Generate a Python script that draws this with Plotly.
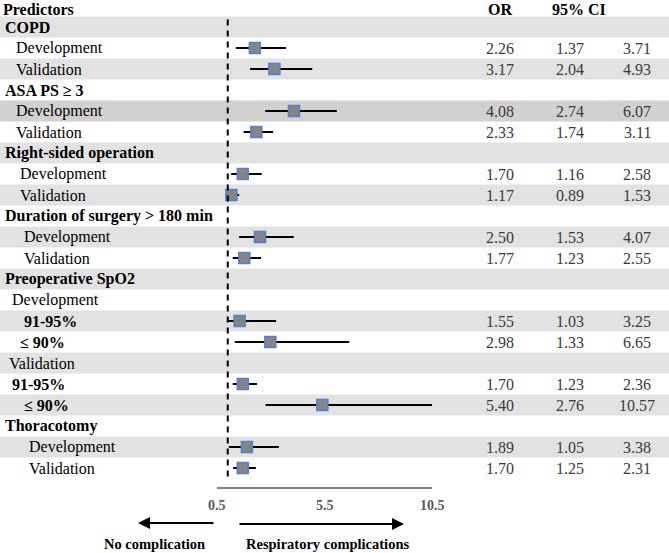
import plotly.graph_objects as go

W, H = 669, 553

# ---------------- data ----------------
labels = ["COPD", "Development", "Validation",
          "ASA PS ≥ 3", "Development", "Validation",
          "Right-sided operation", "Development", "Validation",
          "Duration of surgery > 180 min", "Development", "Validation",
          "Preoperative SpO2", "Development", "91-95%", "≤ 90%",
          "Validation", "91-95%", "≤ 90%",
          "Thoracotomy", "Development", "Validation"]
is_bold = [1, 0, 0, 1, 0, 0, 1, 0, 0, 1, 0, 0, 1, 0, 1, 1, 0, 1, 1, 1, 0, 0]
odds_ratio = [None, 2.26, 3.17, None, 4.08, 2.33, None, 1.70, 1.17, None, 2.50, 1.77,
              None, None, 1.55, 2.98, None, 1.70, 5.40, None, 1.89, 1.70]
ci_low = [None, 1.37, 2.04, None, 2.74, 1.74, None, 1.16, 0.89, None, 1.53, 1.23,
          None, None, 1.03, 1.33, None, 1.23, 2.76, None, 1.05, 1.25]
ci_high = [None, 3.71, 4.93, None, 6.07, 3.11, None, 2.58, 1.53, None, 4.07, 2.55,
           None, None, 3.25, 6.65, None, 2.36, 10.57, None, 3.38, 2.31]
x_ticks = [0.5, 5.5, 10.5]
ref_value = 1.0

# ---------------- layout constants ----------------
indent_px = [3, 14, 14, 3, 14, 14, 3, 18, 18, 3, 22, 22, 3, 10, 22, 18, 7, 10, 22, 3, 27, 27]
ROW0, ROWH = 27.0, 21.0
FONT = "Liberation Serif"
PLOT_X0, PLOT_X1 = 217, 432
row_y = [ROW0 + i * ROWH for i in range(len(labels))]

def px(x):
    return x / W

fig = go.Figure()

shapes = []
# row stripes
for i, y in enumerate(row_y):
    if i % 2 == 0:
        col = "#d2d0d0" if i == 4 else "#e2e2e2"
        shapes.append(dict(type="rect", xref="paper", yref="y", x0=0, x1=1,
                           y0=y - ROWH / 2, y1=y + ROWH / 2, fillcolor=col,
                           line=dict(width=0), layer="below"))
# reference dashed line
shapes.append(dict(type="line", xref="x", yref="y", x0=ref_value, x1=ref_value,
                   y0=row_y[0] - ROWH / 2 + 3, y1=row_y[-1] + 12,
                   line=dict(color="black", width=2, dash="6px,5px"), layer="above"))
# axis line
axis_y = row_y[-1] + 20
shapes.append(dict(type="line", xref="x", yref="y", x0=x_ticks[0], x1=x_ticks[-1],
                   y0=axis_y, y1=axis_y, line=dict(color="black", width=1)))

# CI lines
lx, ly = [], []
for y, lo, hi in zip(row_y, ci_low, ci_high):
    if lo is not None:
        lx += [lo, hi, None]
        ly += [y, y, None]
fig.add_trace(go.Scatter(x=lx, y=ly, mode="lines",
                         line=dict(color="black", width=2), hoverinfo="skip",
                         showlegend=False))
mx = [v for v in odds_ratio if v is not None]
my = [y for y, v in zip(row_y, odds_ratio) if v is not None]
fig.add_trace(go.Scatter(x=mx, y=my, mode="markers",
                         marker=dict(symbol="square", size=11, color="#858585",
                                     line=dict(color="#4f81d0", width=1.5)),
                         showlegend=False))

ann = []
# header
ann.append(dict(x=px(1), y=9, xref="paper", yref="y", text="<b>Predictors</b>",
                showarrow=False, xanchor="left", yanchor="middle",
                font=dict(family=FONT, size=16, color="black")))
ann.append(dict(x=px(499.5), y=9, xref="paper", yref="y", text="<b>OR</b>",
                showarrow=False, xanchor="center", yanchor="middle",
                font=dict(family=FONT, size=16, color="black")))
ann.append(dict(x=px(579), y=9, xref="paper", yref="y", text="<b>95% CI</b>",
                showarrow=False, xanchor="center", yanchor="middle",
                font=dict(family=FONT, size=16, color="black")))

for i, (lab, y) in enumerate(zip(labels, row_y)):
    t = f"<b>{lab}</b>" if is_bold[i] else lab
    ann.append(dict(x=px(indent_px[i]), y=y, xref="paper", yref="y", text=t,
                    showarrow=False, xanchor="left", yanchor="middle",
                    font=dict(family=FONT, size=16, color="black")))
    if odds_ratio[i] is not None:
        for cx, v in ((499.5, odds_ratio[i]), (570, ci_low[i]), (637, ci_high[i])):
            ann.append(dict(x=px(cx), y=y, xref="paper", yref="y", text=f"{v:.2f}",
                            showarrow=False, xanchor="center", yanchor="middle",
                            font=dict(family=FONT, size=16, color="#3a3a3a")))

# tick labels
for t in x_ticks:
    ann.append(dict(x=t, y=axis_y + 17, xref="x", yref="y", text=f"<b>{t}</b>",
                    showarrow=False, xanchor="center", yanchor="middle",
                    font=dict(family=FONT, size=14, color="#595959")))

# arrows
arrow_y = axis_y + 35
ann.append(dict(x=px(138), y=arrow_y, xref="paper", yref="y", text="",
                showarrow=True, ax=77, ay=0, arrowhead=2, arrowsize=1.2,
                arrowwidth=2, arrowcolor="black"))
ann.append(dict(x=px(404), y=arrow_y + 1, xref="paper", yref="y", text="",
                showarrow=True, ax=-166, ay=0, arrowhead=2, arrowsize=1.2,
                arrowwidth=2, arrowcolor="black"))
ann.append(dict(x=px(154), y=arrow_y + 21, xref="paper", yref="y",
                text="<b>No complication</b>", showarrow=False,
                xanchor="center", yanchor="middle",
                font=dict(family=FONT, size=14.5, color="black")))
ann.append(dict(x=px(327), y=arrow_y + 21, xref="paper", yref="y",
                text="<b>Respiratory complications</b>", showarrow=False,
                xanchor="center", yanchor="middle",
                font=dict(family=FONT, size=14.5, color="black")))

fig.update_layout(
    width=W, height=H, margin=dict(l=0, r=0, t=0, b=0),
    paper_bgcolor="white", plot_bgcolor="rgba(0,0,0,0)",
    xaxis=dict(domain=[px(PLOT_X0), px(PLOT_X1)], range=[x_ticks[0], x_ticks[-1]],
               visible=False, fixedrange=True),
    yaxis=dict(range=[H, 0], visible=False, fixedrange=True),
    shapes=shapes, annotations=ann, showlegend=False,
)

fig.write_html("out.html")
